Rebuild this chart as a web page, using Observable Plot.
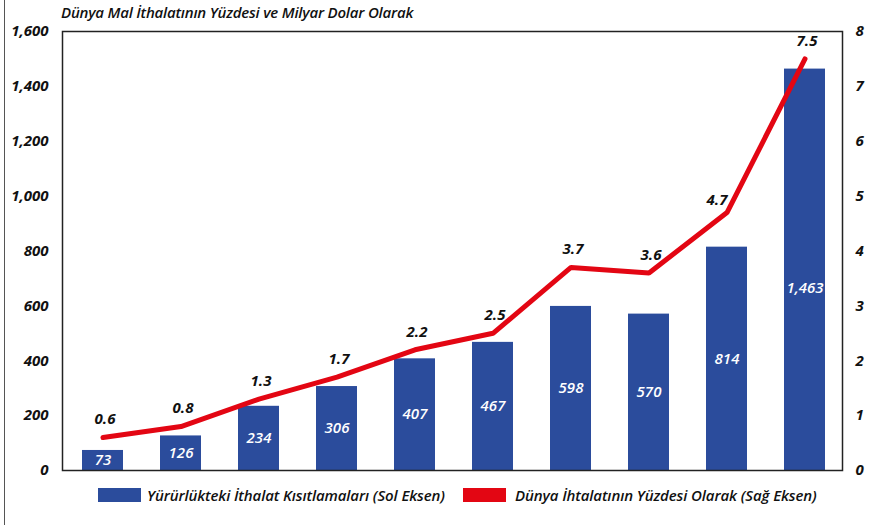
<!DOCTYPE html>
<html>
<head>
<meta charset="utf-8">
<script src="https://cdn.jsdelivr.net/npm/d3@7"></script>
<script src="https://cdn.jsdelivr.net/npm/@observablehq/plot@0.6"></script>
<style>
  html, body { margin: 0; padding: 0; background: #fff; }
  body { width: 874px; height: 525px; position: relative; overflow: hidden; font-family: "Open Sans", sans-serif; color: #111; }
  #border { position: absolute; left: 4px; top: 0; width: 0; height: 525px; border-left: 1.5px solid #555; }
  #title { position: absolute; left: 61px; top: 2px; font-size: 15px; font-style: italic; font-weight: 600; letter-spacing: -0.2px; }
  #chart { position: absolute; left: 0; top: 24px; }
  .legend { position: absolute; top: 485px; display: flex; align-items: center; font-size: 15px; font-style: italic; font-weight: 600; letter-spacing: -0.1px; }
  .sw { width: 43px; height: 14px; margin-right: 6px; }
</style>
</head>
<body>
<div id="border"></div>
<div id="title">Dünya Mal İthalatının Yüzdesi ve Milyar Dolar Olarak</div>
<div id="chart"></div>
<div class="legend" style="left:98px"><div class="sw" style="background:#2b4c9c"></div><span>Yürürlükteki İthalat Kısıtlamaları (Sol Eksen)</span></div>
<div class="legend" style="left:463px"><div class="sw" style="background:#e30613;margin-right:9px"></div><span>Dünya İhtalatının Yüzdesi Olarak (Sağ Eksen)</span></div>
<script>
const periods = ["1","2","3","4","5","6","7","8","9","10"];
const restrictions = [73, 126, 234, 306, 407, 467, 598, 570, 814, 1463];
const sharePct = [0.6, 0.8, 1.3, 1.7, 2.2, 2.5, 3.7, 3.6, 4.7, 7.5];
const leftTicks = [0, 200, 400, 600, 800, 1000, 1200, 1400, 1600];
const rightTicks = [0, 1, 2, 3, 4, 5, 6, 7, 8];

const barColor = "#2b4c9c";
const lineColor = "#e30613";
const ratio = 1600 / 8;

const data = periods.map((p, i) => ({p, v: restrictions[i], s: sharePct[i], i}));
const fmt = d3.format(",");
const shifted = d => d.i === 8; // the 4.7 label sits up-left of its point

const labelStyle = {fill: "#111", fontSize: 15, fontStyle: "italic", fontWeight: 700};

const chart = Plot.plot({
  width: 874,
  height: 452,
  marginLeft: 62,
  marginRight: 32,
  marginTop: 7,
  marginBottom: 6,
  style: {fontFamily: "Open Sans, sans-serif", color: "#111", background: "transparent", overflow: "visible"},
  x: {type: "band", domain: periods, paddingInner: 0.47, paddingOuter: 0.235, align: 0.55, axis: null},
  y: {domain: [0, 1600], axis: null},
  marks: [
    Plot.barY(data, {x: "p", y: "v", fill: barColor}),
    Plot.line(data, {x: "p", y: d => d.s * ratio, stroke: lineColor, strokeWidth: 5, strokeLinejoin: "miter"}),
    Plot.text(data, {x: "p", y: d => Math.min(d.v / 2, 665), text: d => fmt(d.v), fill: "white", fontSize: 15, fontStyle: "italic", fontWeight: 600}),
    Plot.text(data, {filter: d => !shifted(d), x: "p", y: d => d.s * ratio, text: d => d.s.toFixed(1), dy: -18, dx: 2, ...labelStyle}),
    Plot.text(data, {filter: shifted, x: "p", y: d => d.s * ratio, text: d => d.s.toFixed(1), dy: -12, dx: -10, ...labelStyle}),
    Plot.axisY({anchor: "left", ticks: leftTicks, tickSize: 0, tickPadding: 14, tickFormat: d => fmt(d), label: null, fontSize: 15, fontStyle: "italic", fontWeight: 700}),
    Plot.axisY({anchor: "right", ticks: rightTicks.map(t => t * ratio), tickSize: 0, tickPadding: 13, tickFormat: d => String(d / ratio), label: null, fontSize: 15, fontStyle: "italic", fontWeight: 700}),
    Plot.frame({stroke: "#222", strokeWidth: 1.5})
  ]
});
document.getElementById("chart").appendChild(chart);
</script>
</body>
</html>
